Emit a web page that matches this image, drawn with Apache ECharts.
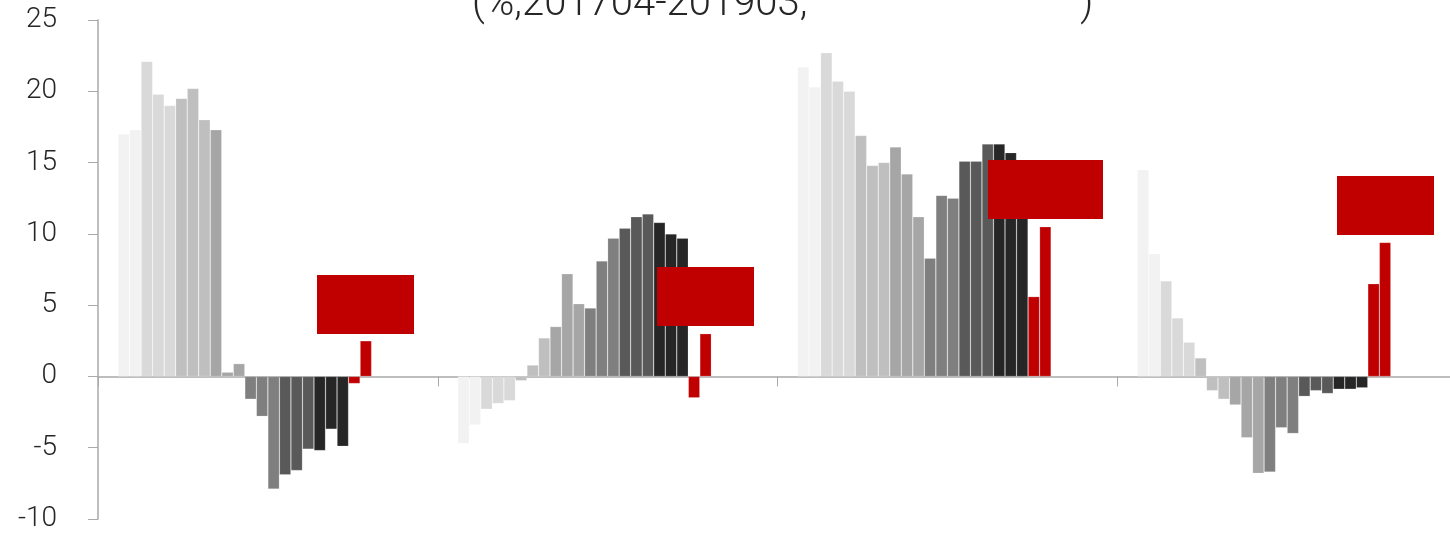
<!DOCTYPE html>
<html>
<head>
<meta charset="utf-8">
<script src="https://cdn.jsdelivr.net/npm/echarts@6/dist/echarts.min.js"></script>
<style>
html,body{margin:0;padding:0;background:#fff;}
#chart{width:1450px;height:537px;}
</style>
</head>
<body>
<div id="chart"></div>
<script>
// ---- data ----
var categories = ['C1', 'C2', 'C3', 'C4'];
var months = ['201704','201705','201706','201707','201708','201709','201710','201711','201712',
              '201802','201803','201804','201805','201806','201807','201808','201809','201810',
              '201811','201812','201902','201903'];
var cat1Values = [17.0,17.3,22.1,19.8,19.0,19.5,20.2,18.0,17.3,0.3,0.9,-1.6,-2.8,-7.9,-6.9,-6.6,-5.1,-5.2,-3.7,-4.9,-0.5,2.5];
var cat2Values = [-4.7,-3.4,-2.3,-1.9,-1.7,-0.3,0.8,2.7,3.5,7.2,5.1,4.8,8.1,9.7,10.4,11.2,11.4,10.8,10.0,9.7,-1.5,3.0];
var cat3Values = [21.7,20.3,22.7,20.7,20.0,16.9,14.8,15.0,16.1,14.2,11.2,8.3,12.7,12.5,15.1,15.1,16.3,16.3,15.7,13.5,5.6,10.5];
var cat4Values = [14.5,8.6,6.7,4.1,2.4,1.3,-1.0,-1.6,-2.0,-4.3,-6.8,-6.7,-3.6,-4.0,-1.4,-1.0,-1.2,-0.9,-0.9,-0.8,6.5,9.4];
var seriesColors = ['#f2f2f2','#f2f2f2','#d9d9d9','#d9d9d9','#d9d9d9','#bfbfbf','#bfbfbf','#bfbfbf',
                    '#a6a6a6','#a6a6a6','#a6a6a6','#7f7f7f','#7f7f7f','#7f7f7f','#595959','#595959','#595959',
                    '#262626','#262626','#262626','#c00000','#c00000'];
var emptySlots = 4;
var yTicks = {min: -10, max: 25, interval: 5};
var titleText = '(%,201704-201903,                            )';

// ---- build ----
var table = [cat1Values, cat2Values, cat3Values, cat4Values];
var series = months.map(function (m, i) {
  return {
    name: m,
    type: 'bar',
    data: table.map(function (row) { return row[i]; }),
    barGap: '0%',
    barCategoryGap: '11.8%',
    itemStyle: { color: seriesColors[i], borderColor: 'rgba(255,255,255,0.3)', borderWidth: 0.6 },
    emphasis: { disabled: true },
    silent: true
  };
});
for (var k = 0; k < emptySlots; k++) {
  series.push({ name: 'empty' + k, type: 'bar', data: [], barGap: '0%', barCategoryGap: '11.8%' });
}

var chart = echarts.init(document.getElementById('chart'), null, { renderer: 'canvas' });
chart.setOption({
  animation: false,
  backgroundColor: '#ffffff',
  title: {
    text: titleText,
    left: 472,
    top: -15,
    padding: 0,
    textStyle: { fontFamily: 'Roboto', fontWeight: 300, fontSize: 40, color: '#262626' }
  },
  grid: { left: 98, width: 1359, top: 20, bottom: 18, containLabel: false, outerBoundsMode: 'none' },
  xAxis: {
    type: 'category',
    data: categories,
    boundaryGap: true,
    axisLine: { onZero: true, lineStyle: { color: '#a9a9a9', width: 1.5 } },
    axisTick: { show: true, length: 10, lineStyle: { color: '#a9a9a9', width: 1 } },
    axisLabel: { show: false },
    splitLine: { show: false }
  },
  yAxis: {
    type: 'value',
    min: yTicks.min,
    max: yTicks.max,
    interval: yTicks.interval,
    axisLine: { show: true, lineStyle: { color: '#a9a9a9', width: 1.5 } },
    axisTick: { show: true, length: 10, lineStyle: { color: '#a9a9a9', width: 1 } },
    axisLabel: { margin: 41, fontFamily: 'Roboto', fontWeight: 300, fontSize: 28, color: '#262626' },
    splitLine: { show: false }
  },
  series: series,
  graphic: [
    { type: 'rect', shape: { x: 317, y: 275, width: 97, height: 59 }, style: { fill: '#c00000' }, z: 100 },
    { type: 'rect', shape: { x: 657, y: 267, width: 97, height: 59 }, style: { fill: '#c00000' }, z: 100 },
    { type: 'rect', shape: { x: 988, y: 160, width: 115, height: 59 }, style: { fill: '#c00000' }, z: 100 },
    { type: 'rect', shape: { x: 1337, y: 176, width: 97, height: 59 }, style: { fill: '#c00000' }, z: 100 }
  ]
});
</script>
</body>
</html>
